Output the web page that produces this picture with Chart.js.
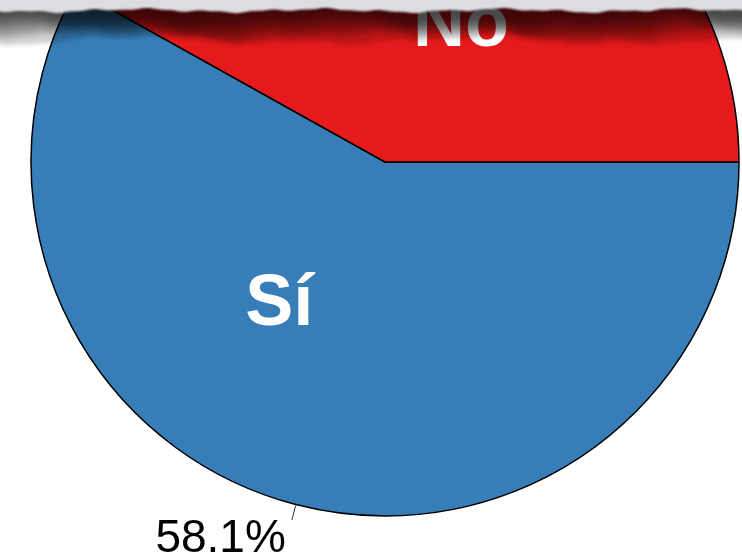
<!DOCTYPE html>
<html>
<head>
<meta charset="utf-8">
<script src="https://cdn.jsdelivr.net/npm/chart.js@4.4.1/dist/chart.umd.min.js"></script>
<style>
    html, body { margin: 0; padding: 0; background: #fff; overflow: hidden; }
    canvas { display: block; }
</style>
</head>
<body>
<canvas id="pieChart" width="742" height="558"></canvas>
<script>
// Chart data
const categories = ['Sí', 'No'];
const shares = [58.1, 41.9];
const sliceColors = ['#377eb8', '#e41a1c'];
const outsideLabels = ['58.1%', ''];

// Where the category name sits inside each slice (fraction of arc, fraction of radius)
const namePlacement = [
    { along: 0.61, out: 0.49 },
    { along: 0.59, out: 0.455 }
];

// Draws the slice names and the outside percentage with its leader line
const sliceLabels = {
    id: 'sliceLabels',
    afterDatasetsDraw(chart) {
        const ctx = chart.ctx;
        const arcs = chart.getDatasetMeta(0).data;
        ctx.save();
        arcs.forEach((arc, i) => {
            const { x, y, startAngle, endAngle, outerRadius } = arc.getProps(['x', 'y', 'startAngle', 'endAngle', 'outerRadius'], true);

            // category name inside the slice
            const p = namePlacement[i];
            const a = startAngle + (endAngle - startAngle) * p.along;
            const r = outerRadius * p.out;
            ctx.fillStyle = '#ffffff';
            ctx.font = 'bold 72px "Liberation Sans", Arial, sans-serif';
            ctx.textAlign = 'center';
            ctx.textBaseline = 'alphabetic';
            ctx.fillText(categories[i], x + Math.cos(a) * r, y + Math.sin(a) * r + 26);

            // percentage outside with short leader
            if (outsideLabels[i]) {
                const mid = (startAngle + endAngle) / 2;
                const x0 = x + Math.cos(mid) * (outerRadius + 1);
                const y0 = y + Math.sin(mid) * (outerRadius + 1);
                const x1 = x + Math.cos(mid) * (outerRadius + 16);
                const y1 = y + Math.sin(mid) * (outerRadius + 16);
                ctx.strokeStyle = '#333';
                ctx.lineWidth = 1;
                ctx.beginPath();
                ctx.moveTo(x0, y0);
                ctx.lineTo(x1, y1);
                ctx.stroke();

                ctx.fillStyle = '#000';
                ctx.font = '46px "Liberation Sans", Arial, sans-serif';
                ctx.textAlign = 'right';
                ctx.fillText(outsideLabels[i], x1 - 6, y1 + 32);
            }
        });
        ctx.restore();
    }
};

// Torn paper strip along the top edge
function tornEdge(x) {
    return 10.5 + 1.4 * Math.sin(x / 29) + 0.9 * Math.sin(x / 9.3 + 1.2) + 0.4 * Math.sin(x / 4.1 + 0.4);
}

const tornTop = {
    id: 'tornTop',
    afterDraw(chart) {
        const ctx = chart.ctx;
        const w = chart.width;
        ctx.save();

        // soft shadow under the strip, in a few layered bands
        const bands = [
            { depth: 30, alpha: 0.18 },
            { depth: 24, alpha: 0.25 },
            { depth: 18, alpha: 0.3 },
            { depth: 10, alpha: 0.35 }
        ];
        bands.forEach((b, k) => {
            ctx.fillStyle = 'rgba(0,0,0,' + b.alpha + ')';
            ctx.beginPath();
            ctx.moveTo(-10, 0);
            for (let x = -10; x <= w + 10; x += 2) {
                ctx.lineTo(x, tornEdge(x) + b.depth + 3 * Math.sin(x / 53 + 2 + k) + 1.5 * Math.sin(x / 17 + k));
            }
            ctx.lineTo(w + 10, 0);
            ctx.closePath();
            ctx.filter = 'blur(' + (2 + k) + 'px)';
            ctx.fill();
        });

        // the paper strip itself
        ctx.filter = 'blur(1px)';
        ctx.fillStyle = '#dcdde0';
        ctx.beginPath();
        ctx.moveTo(-10, -5);
        for (let x = -10; x <= w + 10; x += 2) {
            ctx.lineTo(x, tornEdge(x));
        }
        ctx.lineTo(w + 10, -5);
        ctx.closePath();
        ctx.fill();
        ctx.restore();
    }
};

new Chart(document.getElementById('pieChart'), {
    type: 'pie',
    data: {
        labels: categories,
        datasets: [{
            data: shares,
            backgroundColor: sliceColors,
            borderColor: '#000000',
            borderWidth: 1.5,
            clip: false
        }]
    },
    options: {
        responsive: false,
        animation: false,
        rotation: 90,
        radius: 354,
        layout: {
            padding: { left: 28, right: 0, top: 0, bottom: 234 }
        },
        plugins: {
            legend: { display: false },
            tooltip: { enabled: false }
        }
    },
    plugins: [sliceLabels, tornTop]
});
</script>
</body>
</html>
